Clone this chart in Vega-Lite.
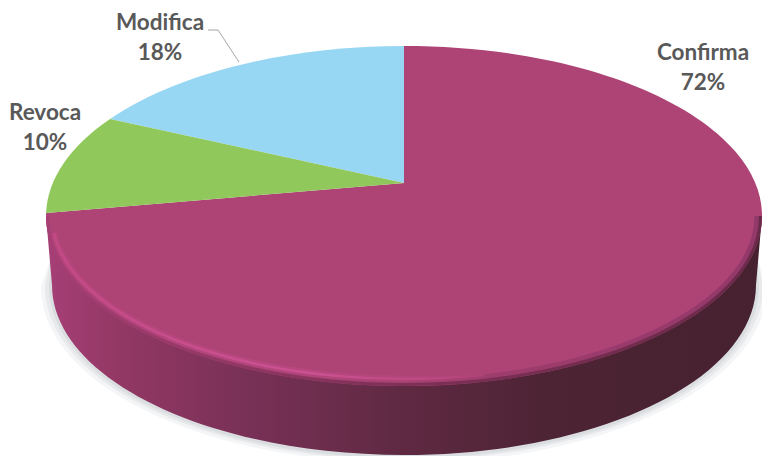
{
 "$schema":"https://vega.github.io/schema/vega-lite/v6.json",
 "width":716,"height":366,
 "autosize":{"type":"none"},
 "padding":{"left":46,"top":0,"right":0,"bottom":90},
 "background":"white",
 "config":{"view":{"stroke":null}},
 "data":{"values":[
  {"categoria":"Confirma","porcentaje":72,"etiqueta":"Confirma\n72%"},
  {"categoria":"Modifica","porcentaje":18,"etiqueta":"Modifica\n18%"},
  {"categoria":"Revoca","porcentaje":10,"etiqueta":"Revoca\n10%"}
 ]},
 "layer":[
  {"transform":[{"filter":"datum.categoria==='Confirma'"}],
   "layer":[
    {"mark":{"type":"point","filled":true,"size":4,"opacity":0.25,"fill":"#d5d8dc","strokeOpacity":0,
      "shape":"M-352,70 L-363,104 A363,176 0 0 0 363,104 L352,70 Z"},"encoding":{}},
    {"mark":{"type":"point","filled":true,"size":4,"opacity":0.4,"fill":"#d5d8dc","strokeOpacity":0,
      "shape":"M-352,70 L-359,103 A359,174 0 0 0 359,103 L352,70 Z"},"encoding":{}},
    {"mark":{"type":"point","filled":true,"size":4,"opacity":0.7,"fill":"#d5d8dc","strokeOpacity":0,
      "shape":"M-352,70 L-355,103 A355,172 0 0 0 355,103 L352,70 Z"},"encoding":{}},
    {"mark":{"type":"point","filled":true,"size":4,"opacity":1,"strokeOpacity":0,
      "fill":{"x1":0,"y1":0,"x2":1,"y2":0,"gradient":"linear","stops":[
        {"offset":0,"color":"#a63f76"},{"offset":0.1,"color":"#933865"},{"offset":0.3,"color":"#763055"},
        {"offset":0.5,"color":"#5f2942"},{"offset":0.7,"color":"#4d2434"},{"offset":1,"color":"#46212f"}]},
      "shape":"M-358,33 L-352,102 A352,170 0 0 0 352,102 L358,33 Z"},"encoding":{}}
   ]},
  {"mark":{"type":"point","filled":true,"size":4,"opacity":1,"strokeOpacity":0},
   "encoding":{
    "shape":{"field":"categoria","type":"nominal","legend":null,"scale":{"domain":["Confirma","Modifica","Revoca"],"range":[
      "M0,0 L0,-137 A358,170 0 1 1 -357.9,30 Z",
      "M0,0 L-294,-64 A358,170 0 0 1 0,-137 Z",
      "M0,0 L-357.9,30 A358,170 0 0 1 -294,-64 Z"]}},
    "fill":{"field":"categoria","type":"nominal","legend":null,"scale":{"domain":["Confirma","Modifica","Revoca"],"range":["#ae4376","#98d7f4","#90c85b"]}}
   }},
  {"transform":[{"filter":"datum.categoria==='Confirma'"}],
   "layer":[
    {"mark":{"type":"point","filled":false,"size":4,"opacity":1,"strokeWidth":7,
      "stroke":{"x1":0,"y1":0,"x2":1,"y2":0,"gradient":"linear","stops":[
        {"offset":0,"color":"#ae4376"},{"offset":0.4,"color":"#a4406f"},{"offset":1,"color":"#93386a"}]},
      "shape":"M-354,33 A354,166 0 0 0 354,33"},"encoding":{}},
    {"mark":{"type":"point","filled":false,"size":4,"opacity":1,"strokeWidth":3,
      "stroke":{"x1":0,"y1":0,"x2":1,"y2":0,"gradient":"linear","stops":[
        {"offset":0,"color":"#a63f74"},{"offset":0.5,"color":"#7d3056"},{"offset":1,"color":"#6a2a49"}]},
      "shape":"M-356.5,33 A356.5,168.5 0 0 0 356.5,33"},"encoding":{}},
    {"mark":{"type":"point","filled":false,"size":4,"opacity":0.35,"strokeWidth":7,
      "stroke":{"x1":0,"y1":0,"x2":1,"y2":0,"gradient":"linear","stops":[
        {"offset":0,"color":"#c44a87"},{"offset":0.6,"color":"#cb5193"},{"offset":1,"color":"#ae4376"}]},
      "shape":"M-350,50 A352,163 0 0 0 80,191.7"},"encoding":{}},
    {"mark":{"type":"point","filled":false,"size":4,"opacity":1,"strokeWidth":2.5,
      "stroke":{"x1":0,"y1":0,"x2":1,"y2":0,"gradient":"linear","stops":[
        {"offset":0,"color":"#c44a87"},{"offset":0.6,"color":"#cb5193"},{"offset":0.85,"color":"#bd4a82"},{"offset":1,"color":"#ae4376"}]},
      "shape":"M-350,50 A352,163 0 0 0 80,191.7"},"encoding":{}}
   ]},
  {"transform":[{"filter":"datum.categoria==='Modifica'"}],
   "mark":{"type":"point","filled":false,"size":4,"opacity":1,"stroke":"#a6a6a6","strokeWidth":1,
     "shape":"M-196,-153 L-186,-153 L-165,-121"},"encoding":{}},
  {"transform":[{"filter":"datum.categoria==='Confirma'"}],
   "mark":{"type":"text","font":"Lato","fontWeight":"bold","fontSize":22.5,"color":"#595959","lineBreak":"\n","lineHeight":30,"align":"center","baseline":"middle","dx":299,"dy":-130},
   "encoding":{"text":{"field":"etiqueta"}}},
  {"transform":[{"filter":"datum.categoria==='Modifica'"}],
   "mark":{"type":"text","font":"Lato","fontWeight":"bold","fontSize":22.5,"color":"#595959","lineBreak":"\n","lineHeight":30,"align":"center","baseline":"middle","dx":-244,"dy":-160},
   "encoding":{"text":{"field":"etiqueta"}}},
  {"transform":[{"filter":"datum.categoria==='Revoca'"}],
   "mark":{"type":"text","font":"Lato","fontWeight":"bold","fontSize":22.5,"color":"#595959","lineBreak":"\n","lineHeight":30,"align":"center","baseline":"middle","dx":-359,"dy":-70},
   "encoding":{"text":{"field":"etiqueta"}}}
 ]
}
